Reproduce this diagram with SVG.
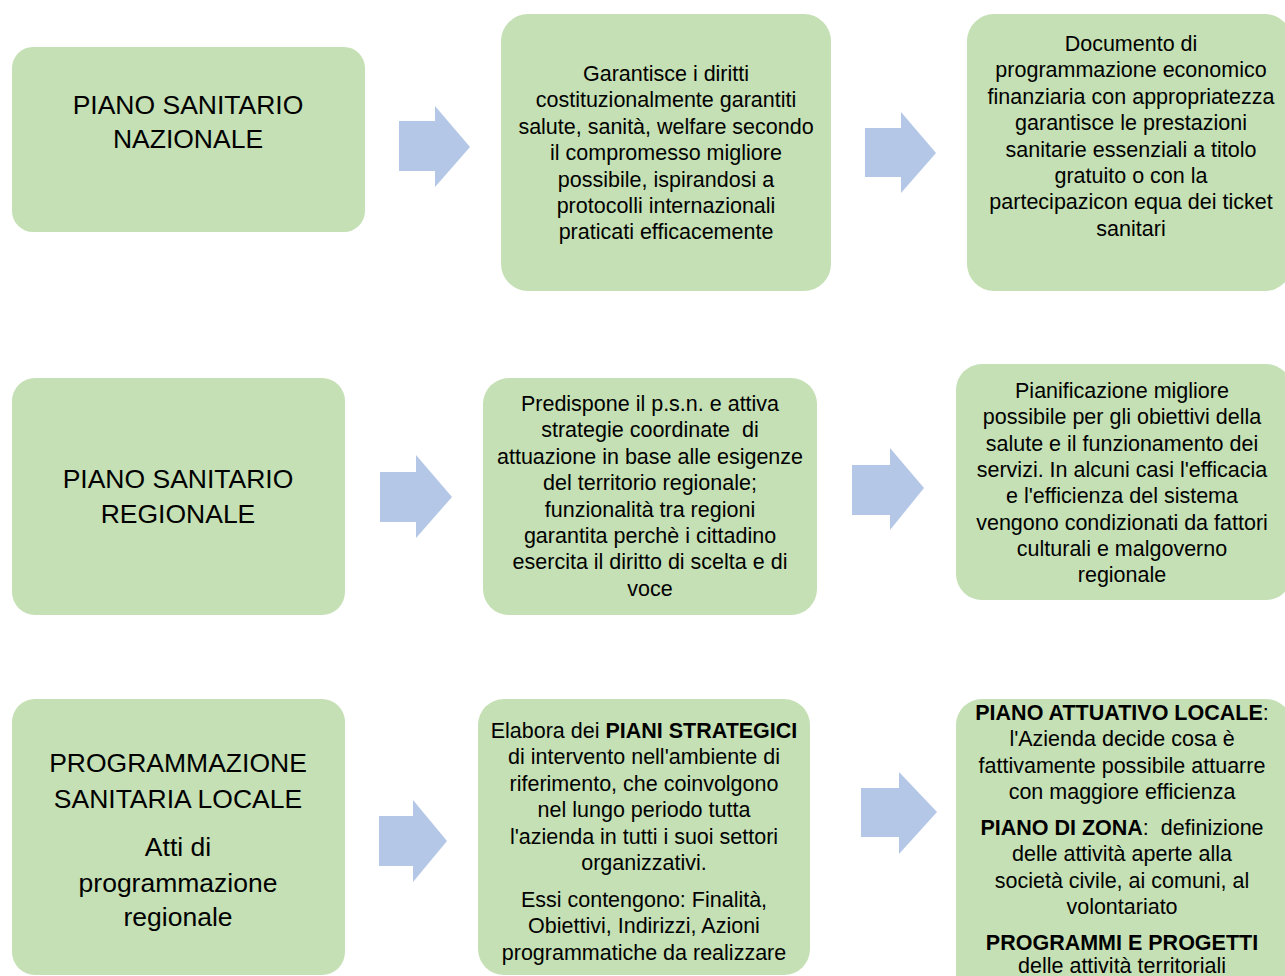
<svg xmlns="http://www.w3.org/2000/svg" width="1285" height="976" viewBox="0 0 1285 976">
<style>
.box{fill:#C5E0B4;}
.arr{fill:#B4C7E7;}
text{font-family:"Liberation Sans",Arial,sans-serif;fill:#000;text-anchor:middle;}
.t{font-size:26.5px;}
.b{font-size:21.5px;}
.bold{font-weight:bold;}
</style>
<rect width="1285" height="976" fill="#fff"/>
<g id="connectors">
<polygon class="arr" points="399,121 435,121 435,106 470,147 435,187 435,171 399,171"/>
<polygon class="arr" points="865,128 901,128 901,112 936,153 901,193 901,177 865,177"/>
<polygon class="arr" points="380,472 416,472 416,455 452,497 416,538 416,522 380,522"/>
<polygon class="arr" points="852,465 890,465 890,448 924,488 890,530 890,515 852,515"/>
<polygon class="arr" points="379,816 413,816 413,800 447,841 413,882 413,866 379,866"/>
<polygon class="arr" points="861,788 899,788 899,772 937,812 899,854 899,837 861,837"/>
</g>
<g id="psn">
<rect class="box" x="12" y="47" width="353" height="185" rx="21"/>
<text class="t" x="188" y="114">PIANO SANITARIO</text>
<text class="t" x="188" y="148">NAZIONALE</text>
</g>
<g id="psn-garantisce">
<rect class="box" x="501" y="14" width="330" height="277" rx="27"/>
<text class="b" x="666" y="81">Garantisce i diritti</text>
<text class="b" x="666" y="107.4">costituzionalmente garantiti</text>
<text class="b" x="666" y="133.8">salute, sanità, welfare secondo</text>
<text class="b" x="666" y="160.2">il compromesso migliore</text>
<text class="b" x="666" y="186.6">possibile, ispirandosi a</text>
<text class="b" x="666" y="213">protocolli internazionali</text>
<text class="b" x="666" y="239.4">praticati efficacemente</text>
</g>
<g id="psn-documento">
<rect class="box" x="967" y="14" width="325" height="277" rx="27"/>
<text class="b" x="1131" y="51">Documento di</text>
<text class="b" x="1131" y="77.4">programmazione economico</text>
<text class="b" x="1131" y="103.8">finanziaria con appropriatezza</text>
<text class="b" x="1131" y="130.2">garantisce le prestazioni</text>
<text class="b" x="1131" y="156.6">sanitarie essenziali a titolo</text>
<text class="b" x="1131" y="183">gratuito o con la</text>
<text class="b" x="1131" y="209.4">partecipazicon equa dei ticket</text>
<text class="b" x="1131" y="235.8">sanitari</text>
</g>
<g id="psr">
<rect class="box" x="12" y="378" width="333" height="237" rx="23"/>
<text class="t" x="178" y="488">PIANO SANITARIO</text>
<text class="t" x="178" y="523">REGIONALE</text>
</g>
<g id="psr-predispone">
<rect class="box" x="483" y="378" width="334" height="237" rx="26"/>
<text class="b" x="650" y="411">Predispone il p.s.n. e attiva</text>
<text class="b" x="650" y="437.4" xml:space="preserve">strategie coordinate  di</text>
<text class="b" x="650" y="463.8">attuazione in base alle esigenze</text>
<text class="b" x="650" y="490.2">del territorio regionale;</text>
<text class="b" x="650" y="516.6">funzionalità tra regioni</text>
<text class="b" x="650" y="543">garantita perchè i cittadino</text>
<text class="b" x="650" y="569.4">esercita il diritto di scelta e di</text>
<text class="b" x="650" y="595.8">voce</text>
</g>
<g id="psr-pianificazione">
<rect class="box" x="956" y="364" width="336" height="236" rx="26"/>
<text class="b" x="1122" y="398">Pianificazione migliore</text>
<text class="b" x="1122" y="424.3">possibile per gli obiettivi della</text>
<text class="b" x="1122" y="450.6">salute e il funzionamento dei</text>
<text class="b" x="1122" y="476.9">servizi. In alcuni casi l'efficacia</text>
<text class="b" x="1122" y="503.2">e l'efficienza del sistema</text>
<text class="b" x="1122" y="529.5">vengono condizionati da fattori</text>
<text class="b" x="1122" y="555.8">culturali e malgoverno</text>
<text class="b" x="1122" y="582.1">regionale</text>
</g>
<g id="psl">
<rect class="box" x="12" y="699" width="333" height="276" rx="23"/>
<text class="t" x="178" y="772">PROGRAMMAZIONE</text>
<text class="t" x="178" y="808">SANITARIA LOCALE</text>
<text class="t" x="178" y="856">Atti di</text>
<text class="t" x="178" y="892">programmazione</text>
<text class="t" x="178" y="926">regionale</text>
</g>
<g id="psl-elabora">
<rect class="box" x="478" y="699" width="332" height="276" rx="26"/>
<text class="b" x="644" y="738">Elabora dei <tspan class="bold">PIANI STRATEGICI</tspan></text>
<text class="b" x="644" y="764.4">di intervento nell'ambiente di</text>
<text class="b" x="644" y="790.8">riferimento, che coinvolgono</text>
<text class="b" x="644" y="817.2">nel lungo periodo tutta</text>
<text class="b" x="644" y="843.6">l'azienda in tutti i suoi settori</text>
<text class="b" x="644" y="870">organizzativi.</text>
<text class="b" x="644" y="907">Essi contengono: Finalità,</text>
<text class="b" x="644" y="933.4">Obiettivi, Indirizzi, Azioni</text>
<text class="b" x="644" y="959.8">programmatiche da realizzare</text>
</g>
<g id="psl-piani">
<rect class="box" x="956" y="699" width="336" height="300" rx="26"/>
<text class="b" x="1122" y="720"><tspan class="bold">PIANO ATTUATIVO LOCALE</tspan>:</text>
<text class="b" x="1122" y="746.4">l'Azienda decide cosa è</text>
<text class="b" x="1122" y="772.8">fattivamente possibile attuarre</text>
<text class="b" x="1122" y="799.2">con maggiore efficienza</text>
<text class="b" x="1122" y="835" xml:space="preserve"><tspan class="bold">PIANO DI ZONA</tspan>:  definizione</text>
<text class="b" x="1122" y="861.4">delle attività aperte alla</text>
<text class="b" x="1122" y="887.8">società civile, ai comuni, al</text>
<text class="b" x="1122" y="914.2">volontariato</text>
<text class="b bold" x="1122" y="950">PROGRAMMI E PROGETTI</text>
<text class="b" x="1122" y="973">delle attività territoriali</text>
</g>
</svg>
